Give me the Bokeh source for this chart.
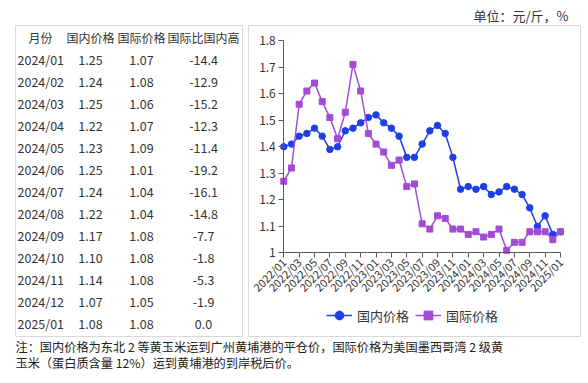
from math import pi
from bokeh.plotting import figure
from bokeh.models import Range1d, LinearAxis, FixedTicker, Legend, LegendItem
from bokeh.layouts import column, row
from bokeh.embed import file_html
from bokeh.resources import INLINE
from bokeh.core.properties import value

FONT = "Noto Sans CJK SC"

# ---------------- data ----------------
months = ["2022/01", "2022/02", "2022/03", "2022/04", "2022/05", "2022/06",
          "2022/07", "2022/08", "2022/09", "2022/10", "2022/11", "2022/12",
          "2023/01", "2023/02", "2023/03", "2023/04", "2023/05", "2023/06",
          "2023/07", "2023/08", "2023/09", "2023/10", "2023/11", "2023/12",
          "2024/01", "2024/02", "2024/03", "2024/04", "2024/05", "2024/06",
          "2024/07", "2024/08", "2024/09", "2024/10", "2024/11", "2024/12",
          "2025/01"]
domestic = [1.40, 1.41, 1.44, 1.45, 1.47, 1.44, 1.39, 1.40, 1.46, 1.47, 1.49, 1.51,
            1.52, 1.49, 1.47, 1.44, 1.36, 1.36, 1.41, 1.46, 1.48, 1.45, 1.36, 1.24,
            1.25, 1.24, 1.25, 1.22, 1.23, 1.25, 1.24, 1.22, 1.17, 1.10, 1.14, 1.07,
            1.08]
international = [1.27, 1.32, 1.56, 1.61, 1.64, 1.57, 1.51, 1.43, 1.53, 1.71, 1.61, 1.45,
                 1.41, 1.38, 1.33, 1.35, 1.25, 1.26, 1.11, 1.09, 1.14, 1.13, 1.09, 1.09,
                 1.07, 1.08, 1.06, 1.07, 1.09, 1.01, 1.04, 1.04, 1.08, 1.08, 1.08, 1.05,
                 1.08]
y_ticks = [1.0, 1.1, 1.2, 1.3, 1.4, 1.5, 1.6, 1.7, 1.8]
y_tick_labels = ["1", "1.1", "1.2", "1.3", "1.4", "1.5", "1.6", "1.7", "1.8"]
x_tick_step = 2

table_header = ["月份", "国内价格", "国际价格", "国际比国内高"]
table_months = ["2024/01", "2024/02", "2024/03", "2024/04", "2024/05", "2024/06",
                "2024/07", "2024/08", "2024/09", "2024/10", "2024/11", "2024/12",
                "2025/01"]
table_domestic = [1.25, 1.24, 1.25, 1.22, 1.23, 1.25, 1.24, 1.22, 1.17, 1.10, 1.14, 1.07, 1.08]
table_international = [1.07, 1.08, 1.06, 1.07, 1.09, 1.01, 1.04, 1.04, 1.08, 1.08, 1.08, 1.05, 1.08]
table_diff = [-14.4, -12.9, -15.2, -12.3, -11.4, -19.2, -16.1, -14.8, -7.7, -1.8, -5.3, -1.9, 0.0]

unit_text = "单位：元/斤，%"
note_lines = ["注：国内价格为东北 2 等黄玉米运到广州黄埔港的平仓价，国际价格为美国墨西哥湾 2 级黄",
              "玉米（蛋白质含量 12%）运到黄埔港的到岸税后价。"]

BLUE = "#1f3fe6"
PURPLE = "#a34bd7"
TEXT = "#333333"
AXIS = "#595959"
BOX = "#d9d9d9"


def blank(width, height, xr, yr, **kw):
    f = figure(width=width, height=height, x_range=xr, y_range=yr,
               output_backend="svg", toolbar_location=None,
               x_axis_location=None, y_axis_location=None, **kw)
    f.grid.visible = False
    f.background_fill_color = None
    f.border_fill_color = None
    return f


# ---------------- top unit line ----------------
top = blank(584, 24, Range1d(0, 584), Range1d(24, 0),
            min_border_left=0, min_border_right=0, min_border_top=0, min_border_bottom=0)
top.outline_line_color = None
top.text(x=[568], y=[15], text=[unit_text], text_align="right", text_baseline="middle",
         text_font=value(FONT), text_font_size="13px", text_color=TEXT)

# ---------------- table ----------------
tf = blank(245, 314, Range1d(0, 227), Range1d(311, 0),
           min_border_left=15, min_border_right=3, min_border_top=1, min_border_bottom=2)
tf.outline_line_color = BOX
col_x = [25, 75, 126, 188]
tf.text(x=col_x, y=[12] * 4, text=table_header, text_align="center", text_baseline="middle",
        text_font=value(FONT), text_font_size="12px", text_color=TEXT)
rows_y = [34 + 22 * i for i in range(len(table_months))]
tf.text(x=[2] * len(table_months), y=rows_y, text=table_months, text_align="left",
        text_baseline="middle", text_font=value(FONT), text_font_size="12.5px", text_color=TEXT)
tf.text(x=[col_x[1]] * len(rows_y), y=rows_y, text=[f"{v:.2f}" for v in table_domestic],
        text_align="center", text_baseline="middle", text_font=value(FONT),
        text_font_size="12.5px", text_color=TEXT)
tf.text(x=[col_x[2]] * len(rows_y), y=rows_y, text=[f"{v:.2f}" for v in table_international],
        text_align="center", text_baseline="middle", text_font=value(FONT),
        text_font_size="12.5px", text_color=TEXT)
tf.text(x=[col_x[3]] * len(rows_y), y=rows_y, text=[f"{v:.1f}" for v in table_diff],
        text_align="center", text_baseline="middle", text_font=value(FONT),
        text_font_size="12.5px", text_color=TEXT)

# ---------------- chart ----------------
idx = list(range(len(months)))
p = blank(337, 314, Range1d(-4.59, 38.60), Range1d(0.6856, 1.8565),
          min_border_left=3, min_border_right=2, min_border_top=1, min_border_bottom=2)
p.outline_line_color = BOX

yaxis = LinearAxis(fixed_location=0, bounds=(y_ticks[0], y_ticks[-1]),
                   ticker=FixedTicker(ticks=y_ticks, minor_ticks=[]),
                   major_label_overrides={t: l for t, l in zip(y_ticks, y_tick_labels)})
xt = idx[::x_tick_step]
xaxis = LinearAxis(fixed_location=y_ticks[0], bounds=(0, idx[-1]),
                   ticker=FixedTicker(ticks=xt, minor_ticks=[]),
                   major_label_overrides={i: months[i] for i in xt},
                   major_label_orientation=pi / 4)
for ax in (yaxis, xaxis):
    ax.axis_line_color = AXIS
    ax.axis_line_width = 1
    ax.major_tick_line_color = AXIS
    ax.major_tick_out = 5
    ax.major_tick_in = 0
    ax.minor_tick_line_color = None
    ax.major_label_text_font = FONT
    ax.major_label_text_color = TEXT
yaxis.major_label_text_font_size = "12px"
xaxis.major_label_text_font_size = "11px"
yaxis.major_label_standoff = 3
xaxis.major_label_standoff = 2
p.add_layout(yaxis, "left")
p.add_layout(xaxis, "below")

l1 = p.line(idx, domestic, line_color=BLUE, line_width=1.5)
s1 = p.scatter(idx, domestic, marker="circle", size=6.5, fill_color=BLUE, line_color=BLUE)
l2 = p.line(idx, international, line_color=PURPLE, line_width=1.5)
s2 = p.scatter(idx, international, marker="square", size=6, fill_color=PURPLE, line_color=PURPLE)

legend = Legend(items=[LegendItem(label="国内价格", renderers=[l1, s1]),
                       LegendItem(label="国际价格", renderers=[l2, s2])],
                orientation="horizontal", location=(78, 10), padding=2, spacing=6,
                glyph_width=26, glyph_height=22, label_standoff=5, margin=0,
                label_text_font=FONT, label_text_font_size="13px", label_text_color=TEXT,
                border_line_color=None, background_fill_alpha=0)
p.add_layout(legend)

# ---------------- note ----------------
nf = blank(584, 42, Range1d(0, 584), Range1d(42, 0),
           min_border_left=0, min_border_right=0, min_border_top=0, min_border_bottom=0)
nf.outline_line_color = None
nf.text(x=[15, 15], y=[8, 24], text=note_lines, text_align="left", text_baseline="middle",
        text_font=value(FONT), text_font_size="12.2px", text_color="#222222")

layout = column(top, row(tf, p, spacing=0), nf, spacing=0)
open("out.html", "w").write(file_html(layout, INLINE))
